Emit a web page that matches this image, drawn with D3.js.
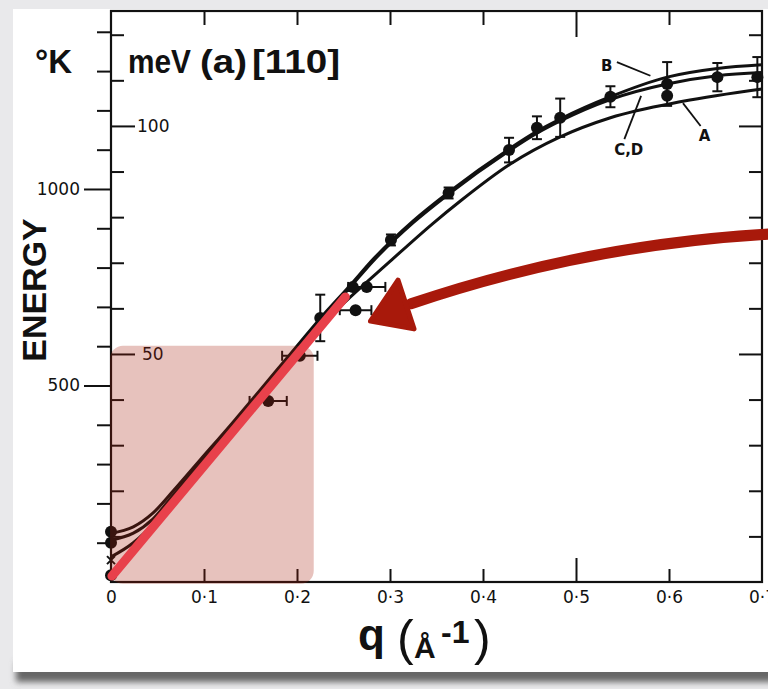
<!DOCTYPE html>
<html>
<head>
<meta charset="utf-8">
<script src="https://cdn.jsdelivr.net/npm/d3@7"></script>
<style>
  body { margin: 0; background: #e9e9eb; }
  svg { display: block; }
</style>
</head>
<body>
<svg id="chart" width="768" height="689"></svg>
<script>
// axis ticks
const qTicks = [0, 0.1, 0.2, 0.3, 0.4, 0.5, 0.6, 0.7];
const qLabels = ["0", "0·1", "0·2", "0·3", "0·4", "0·5", "0·6", "0·7"];
const kTicks = [100, 200, 300, 400, 500, 600, 700, 800, 900, 1000, 1100, 1200, 1300, 1400];
const kLabels = [500, 1000];
const mevTicks = [10, 20, 30, 40, 50, 60, 70, 80, 90, 100, 110, 120];
const mevLabels = [50, 100];
const K_PER_MEV = 11.6045;

// fitted dispersion curves (q in 1/A, E in meV)
const curveBQ = [0, 0.024, 0.045, 0.067, 0.096, 0.131, 0.160, 0.192, 0.225, 0.257, 0.282, 0.325, 0.362, 0.427, 0.458, 0.483, 0.537, 0.598, 0.652, 0.700];
const curveBE = [10.7, 12.1, 15.1, 20.0, 26.8, 35.0, 42.0, 49.8, 57.8, 65.0, 70.8, 79.2, 85.3, 94.8, 98.8, 101.5, 106.4, 110.7, 112.6, 113.4];
const curveCDQ = [0, 0.024, 0.045, 0.067, 0.096, 0.131, 0.160, 0.192, 0.225, 0.257, 0.282, 0.325, 0.362, 0.427, 0.458, 0.483, 0.537, 0.598, 0.652, 0.700];
const curveCDE = [9.2, 10.7, 13.8, 19.1, 26.2, 34.6, 41.6, 49.4, 57.4, 64.6, 70.4, 78.8, 84.9, 94.4, 98.4, 101.1, 105.8, 109.2, 111.0, 111.7];
const curveAQ = [0, 0.024, 0.049, 0.074, 0.096, 0.131, 0.160, 0.192, 0.246, 0.300, 0.346, 0.376, 0.429, 0.483, 0.537, 0.615, 0.700];
const curveAE = [5.5, 8.6, 13.6, 20.2, 26.1, 34.0, 41.2, 48.9, 60.3, 70.3, 78.6, 83.6, 91.6, 97.6, 101.8, 105.4, 108.1];

// measured points with error bars
const ptQ  = [0, 0, 0, 0.169, 0.203, 0.225, 0.260, 0.275, 0.263, 0.301, 0.363, 0.428, 0.458, 0.483, 0.537, 0.598, 0.598, 0.652, 0.695];
const ptE  = [11.0, 8.6, 1.5, 39.7, 49.6, 57.9, 64.7, 64.7, 59.6, 75.0, 85.3, 94.7, 99.6, 101.8, 106.4, 109.2, 106.6, 110.7, 110.7];
const ptDQ = [0, 0, 0, 0.020, 0.019, 0, 0, 0.020, 0.017, 0, 0, 0, 0, 0, 0, 0, 0, 0, 0];
const ptDE = [0, 0, 0, 0, 0, 5.1, 0, 0, 0, 1.2, 1.2, 2.7, 2.5, 4.2, 2.3, 4.8, 0, 3.1, 4.4];
const crossQ = [0];
const crossE = [4.8];

// annotations
const curveNames = ["B", "C,D", "A"];
const nameQ = [0.527, 0.541, 0.632];
const nameE = [112.1, 93.6, 96.7];
const pointerFromQ = [0.544, 0.552, 0.634];
const pointerFromE = [114.0, 97.1, 100.0];
const pointerToQ = [0.580, 0.570, 0.615];
const pointerToE = [111.0, 106.6, 105.0];
const redLineQ = [0.001, 0.252];
const redLineE = [1.3, 62.5];
const boxQ = [-0.001, 0.218];
const boxE = [-0.4, 51.8];
const arrowQ = [0.7086, 0.5108, 0.3226];
const arrowE = [76.3, 74.0, 61.0];
const headQ = [0.2790, 0.3086, 0.3258];
const headE = [57.2, 66.2, 55.5];

const svg = d3.select('#chart');
const x = d3.scaleLinear().domain([0, 0.7]).range([111, 762]);
const y = d3.scaleLinear().domain([0, 125.2]).range([582, 11]);
const yK = d3.scaleLinear().domain([0, 125.2 * K_PER_MEV]).range([582, 11]);
const ink = '#111';

// paper card with shadow
const defs = svg.append('defs');
defs.append('filter').attr('id', 'blur').attr('x', '-10%').attr('y', '-100%').attr('width', '120%').attr('height', '300%')
  .append('feGaussianBlur').attr('stdDeviation', 3);
svg.append('rect').attr('width', 768).attr('height', 689).attr('fill', '#e9e9eb');
svg.append('rect').attr('x', 16).attr('y', 662).attr('width', 800).attr('height', 20)
  .attr('fill', '#666').attr('filter', 'url(#blur)');
svg.append('rect').attr('x', 13).attr('y', 9).attr('width', 800).attr('height', 663).attr('fill', '#fff');

function styleTicks(g) {
  g.select('.domain').remove();
  g.selectAll('.tick line').attr('stroke', ink).attr('stroke-width', 2);
  g.attr('font-family', 'DejaVu Sans').attr('font-size', 17);
  g.selectAll('.tick text').attr('fill', ink);
}

// left axis, degrees K outside
const kAxis = svg.append('g').attr('transform', 'translate(111,0)')
  .call(d3.axisLeft(yK).tickValues(kTicks).tickSize(14)
    .tickFormat(d => kLabels.includes(d) ? d : ''));
styleTicks(kAxis);
kAxis.selectAll('.tick line').attr('x2', d => kLabels.includes(d) ? -27 : -14);
kAxis.selectAll('.tick text').attr('x', -31);

// left axis, meV inside
const mAxis = svg.append('g').attr('transform', 'translate(111,0)')
  .call(d3.axisRight(y).tickValues(mevTicks).tickSize(13)
    .tickFormat(d => mevLabels.includes(d) ? d : ''));
styleTicks(mAxis);
mAxis.selectAll('.tick line').attr('x2', d => mevLabels.includes(d) ? 24 : 13);
mAxis.selectAll('.tick text').attr('x', d => d === 100 ? 26 : 31);

// right axis
const rAxis = svg.append('g').attr('transform', 'translate(762,0)')
  .call(d3.axisLeft(y).tickValues(mevTicks).tickSize(13).tickFormat(''));
styleTicks(rAxis);
rAxis.selectAll('.tick line').attr('x2', d => mevLabels.includes(d) ? -23 : -13);

// top and bottom ticks
const inner = qTicks.slice(1, 7);
const tAxis = svg.append('g').attr('transform', 'translate(0,11)')
  .call(d3.axisBottom(x).tickValues(inner).tickSize(14).tickFormat(''));
styleTicks(tAxis);
tAxis.selectAll('.tick line').attr('y2', d => d === 0.5 ? 26 : 14);
const bAxis = svg.append('g').attr('transform', 'translate(0,582)')
  .call(d3.axisTop(x).tickValues(inner).tickSize(13).tickFormat(''));
styleTicks(bAxis);
bAxis.selectAll('.tick line').attr('y2', d => d === 0.5 ? -24 : -13);
const lAxis = svg.append('g').attr('transform', 'translate(0,582)')
  .call(d3.axisBottom(x).tickValues(qTicks).tickSize(0).tickPadding(9)
    .tickFormat((d, i) => qLabels[i]));
styleTicks(lAxis);

// frame
svg.append('rect').attr('x', x(0)).attr('y', y(125.2))
  .attr('width', x(0.7) - x(0)).attr('height', y(0) - y(125.2))
  .attr('fill', 'none').attr('stroke', ink).attr('stroke-width', 2.2);

// curves
const line = d3.line().x(d => x(d[0])).y(d => y(d[1])).curve(d3.curveMonotoneX);
[[curveBQ, curveBE], [curveCDQ, curveCDE], [curveAQ, curveAE]].forEach(([qs, es]) => {
  svg.append('path').datum(qs.map((q, i) => [q, es[i]]))
    .attr('d', line).attr('fill', 'none').attr('stroke', ink).attr('stroke-width', 3);
});

// error bars and points
const pts = ptQ.map((q, i) => ({ q: q, e: ptE[i], dq: ptDQ[i], de: ptDE[i] }));
const bars = svg.append('g').attr('stroke', ink).attr('stroke-width', 2);
pts.filter(d => d.de > 0).forEach(d => {
  bars.append('line').attr('x1', x(d.q)).attr('x2', x(d.q)).attr('y1', y(d.e - d.de)).attr('y2', y(d.e + d.de));
  [d.e - d.de, d.e + d.de].forEach(v => bars.append('line')
    .attr('x1', x(d.q) - 5).attr('x2', x(d.q) + 5).attr('y1', y(v)).attr('y2', y(v)));
});
pts.filter(d => d.dq > 0).forEach(d => {
  bars.append('line').attr('x1', x(d.q - d.dq)).attr('x2', x(d.q + d.dq)).attr('y1', y(d.e)).attr('y2', y(d.e));
  [d.q - d.dq, d.q + d.dq].forEach(v => bars.append('line')
    .attr('x1', x(v)).attr('x2', x(v)).attr('y1', y(d.e) - 5).attr('y2', y(d.e) + 5));
});
svg.append('g').selectAll('circle').data(pts).enter().append('circle')
  .attr('cx', d => x(d.q)).attr('cy', d => y(d.e)).attr('r', 6).attr('fill', ink);
crossQ.forEach((q, i) => {
  const cx = x(q), cy = y(crossE[i]);
  svg.append('path').attr('d', `M${cx - 4},${cy - 4}L${cx + 4},${cy + 4}M${cx - 4},${cy + 4}L${cx + 4},${cy - 4}`)
    .attr('stroke', ink).attr('stroke-width', 2);
});

// curve name labels
curveNames.forEach((n, i) => {
  svg.append('line').attr('x1', x(pointerFromQ[i])).attr('y1', y(pointerFromE[i]))
    .attr('x2', x(pointerToQ[i])).attr('y2', y(pointerToE[i]))
    .attr('stroke', ink).attr('stroke-width', 1.8);
  svg.append('text').attr('x', x(nameQ[i])).attr('y', y(nameE[i]))
    .attr('font-family', 'DejaVu Sans').attr('font-weight', 'bold').attr('font-size', 15)
    .attr('fill', ink).text(n);
});

// titles
const title = svg.append('g').attr('font-family', 'Liberation Sans').attr('font-weight', 'bold')
  .attr('font-size', 33).attr('fill', ink);
title.append('text').attr('x', 35).attr('y', 73).text('°K');
title.append('text').attr('x', 128).attr('y', 73).attr('textLength', 63)
  .attr('lengthAdjust', 'spacingAndGlyphs').text('meV');
title.append('text').attr('x', 200).attr('y', 73).attr('textLength', 47)
  .attr('lengthAdjust', 'spacingAndGlyphs').text('(a)');
title.append('text').attr('x', 252).attr('y', 73).attr('textLength', 88)
  .attr('lengthAdjust', 'spacingAndGlyphs').text('[110]');
svg.append('text').attr('transform', 'translate(46,290) rotate(-90)').attr('text-anchor', 'middle')
  .attr('font-family', 'Liberation Sans').attr('font-weight', 'bold').attr('font-size', 34)
  .attr('fill', ink).text('ENERGY');
const xl = svg.append('g').attr('font-family', 'Liberation Sans').attr('fill', ink).attr('font-weight', 'bold');
xl.append('text').attr('x', 358).attr('y', 650).attr('font-size', 44).text('q');
xl.append('text').attr('x', 397).attr('y', 655).attr('font-size', 50).attr('font-weight', 'normal').text('(');
xl.append('text').attr('x', 414).attr('y', 658).attr('font-size', 30).text('Å');
xl.append('text').attr('x', 441).attr('y', 643).attr('font-size', 32).text('-1');
xl.append('text').attr('x', 474).attr('y', 655).attr('font-size', 50).attr('font-weight', 'normal').text(')');

// highlight box
svg.append('rect').attr('x', x(boxQ[0])).attr('y', y(boxE[1]))
  .attr('width', x(boxQ[1]) - x(boxQ[0])).attr('height', y(boxE[0]) - y(boxE[1]))
  .attr('rx', 13).attr('fill', '#a51c0a').attr('fill-opacity', 0.27);

// red linear line
svg.append('line').attr('x1', x(redLineQ[0])).attr('y1', y(redLineE[0]))
  .attr('x2', x(redLineQ[1])).attr('y2', y(redLineE[1]))
  .attr('stroke', '#e8414b').attr('stroke-width', 9).attr('stroke-linecap', 'round');

// dark red arrow
const ap = arrowQ.map((q, i) => [x(q), y(arrowE[i])]);
svg.append('path').attr('d', `M${ap[0]}Q${ap[1]} ${ap[2]}`)
  .attr('fill', 'none').attr('stroke', '#a8190b').attr('stroke-width', 11).attr('stroke-linecap', 'round');
const hp = headQ.map((q, i) => [x(q), y(headE[i])]);
svg.append('path').attr('d', `M${hp[0]}L${hp[1]}L${hp[2]}Z`)
  .attr('fill', '#a8190b').attr('stroke', '#a8190b').attr('stroke-width', 5).attr('stroke-linejoin', 'round');
</script>
</body>
</html>
